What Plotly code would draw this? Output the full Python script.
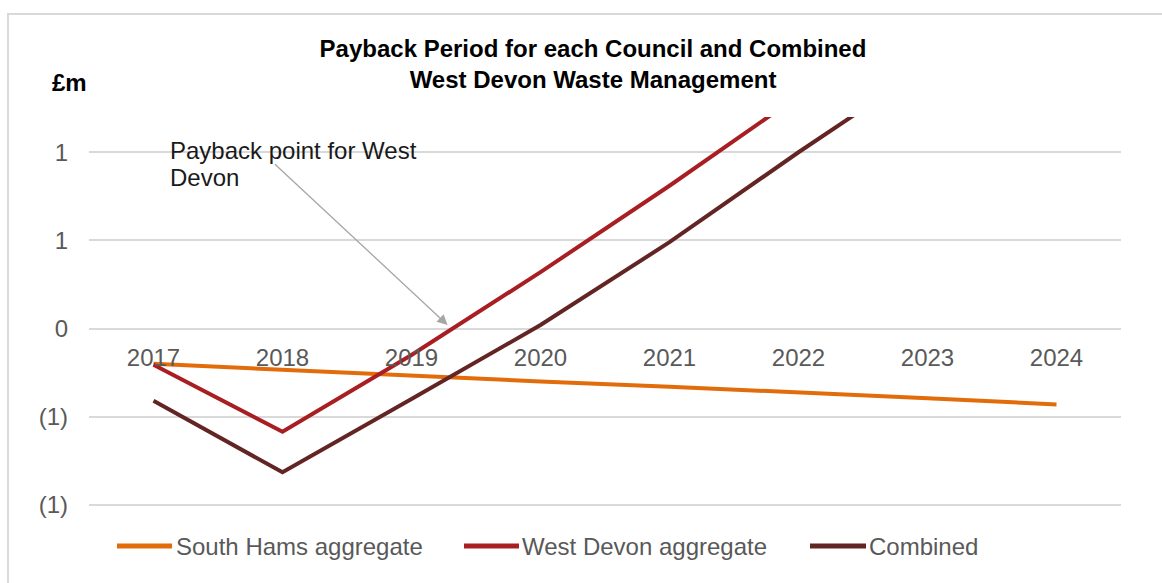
import plotly.graph_objects as go

years = ["2017", "2018", "2019", "2020", "2021", "2022", "2023", "2024"]
south_hams = [-0.20, -0.235, -0.265, -0.30, -0.33, -0.36, -0.395, -0.43]
west_devon = [-0.205, -0.585, -0.15, 0.32, 0.81, 1.32, 1.80, 2.25]
combined = [-0.41, -0.815, -0.40, 0.02, 0.49, 1.00, 1.49, 1.95]

y_tickvals = [-1.0, -0.5, 0.0, 0.5, 1.0]
y_ticktext = ["(1)", "(1)", "0", "1", "1"]

series_names = ["South Hams aggregate", "West Devon aggregate", "Combined"]
series_colors = ["#E36C0A", "#A81E22", "#632523"]

FONT = "Arial, 'Liberation Sans', sans-serif"

fig = go.Figure()
for name, vals, col in zip(series_names, [south_hams, west_devon, combined], series_colors):
    fig.add_trace(go.Scatter(
        x=years, y=vals, name=name, mode="lines",
        line=dict(color=col, width=4), cliponaxis=True, showlegend=False,
    ))

W, H = 1162, 583
ml, mr, mt, mb = 89, 41, 117, 76
pw = W - ml - mr
ph = H - mt - mb


def px_x(x):
    return (x - ml) / pw


def px_y(y):
    return (H - mb - y) / ph


ymin, ymax = -1.012, 1.2
zero_pos = (0 - ymin) / (ymax - ymin)

fig.update_layout(
    width=W, height=H,
    margin=dict(l=ml, r=mr, t=mt, b=mb, autoexpand=False),
    paper_bgcolor="white", plot_bgcolor="white",
    font=dict(family=FONT, size=24, color="#595959"),
    title=dict(
        text="<b>Payback Period for each Council and Combined<br>West Devon Waste Management</b>",
        x=593 / W, xanchor="center", xref="container",
        y=1 - 57 / H, yanchor="top", yref="container",
        font=dict(family=FONT, size=24, color="#000000"),
    ),
    xaxis=dict(
        type="category", range=[-0.5, 7.5],
        anchor="free", position=zero_pos,
        showgrid=False, showline=False, zeroline=False, ticks="",
        ticklabelstandoff=12,
        tickfont=dict(family=FONT, size=24, color="#595959"),
    ),
    yaxis=dict(
        range=[ymin, ymax], tickvals=y_tickvals, ticktext=y_ticktext,
        showgrid=True, gridcolor="#D9D9D9", gridwidth=2,
        zeroline=False, showline=False, ticks="",
        ticklabelstandoff=20,
        tickfont=dict(family=FONT, size=24, color="#595959"),
    ),
    showlegend=False,
)

# chart border
fig.add_shape(type="rect", xref="paper", yref="paper",
              x0=px_x(8), x1=px_x(1175), y0=px_y(600), y1=px_y(14),
              line=dict(color="#D9D9D9", width=2), layer="below")

# custom legend (line sample + label)
legend_line_x = [(117, 172), (464, 519), (810, 866)]
legend_text_x = [174, 520, 867]
legend_y = 546
for name, col, (lx0, lx1), tx in zip(series_names, series_colors, legend_line_x, legend_text_x):
    fig.add_shape(type="line", xref="paper", yref="paper",
                  x0=px_x(lx0), x1=px_x(lx1), y0=px_y(legend_y), y1=px_y(legend_y),
                  line=dict(color=col, width=5))
    fig.add_annotation(text=name, xref="paper", yref="paper",
                       x=px_x(tx), y=px_y(legend_y), xanchor="left", yanchor="middle",
                       showarrow=False, font=dict(family=FONT, size=24, color="#595959"))

# £m label
fig.add_annotation(text="<b>£m</b>", xref="paper", yref="paper",
                   x=px_x(69), y=px_y(82), xanchor="center", yanchor="middle",
                   showarrow=False, font=dict(family=FONT, size=24, color="#000000"))

# payback annotation text (two lines)
for line_text, cy in [("Payback point for West", 150), ("Devon", 177)]:
    fig.add_annotation(text=line_text, xref="paper", yref="paper",
                       x=px_x(168), y=px_y(cy), xanchor="left", yanchor="middle", align="left",
                       showarrow=False, font=dict(family=FONT, size=24, color="#1A1A1A"))

# arrow
fig.add_annotation(text="", x=2.28, y=0.02, xref="x", yref="y",
                   ax=0.93, ay=0.94, axref="x", ayref="y",
                   showarrow=True, arrowhead=2, arrowsize=1.6, arrowwidth=1.3,
                   arrowcolor="#A6A6A6")

fig.write_html("out.html")
